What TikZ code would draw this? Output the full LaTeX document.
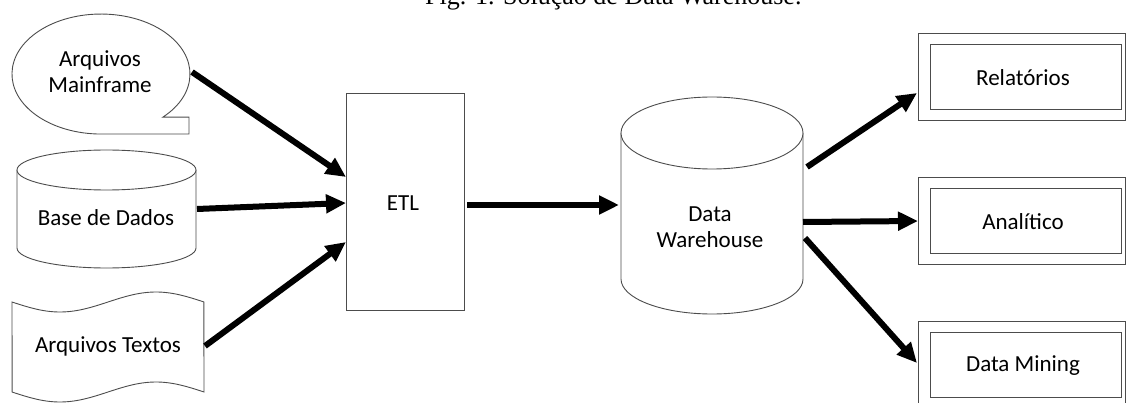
\documentclass[tikz,border=0pt]{standalone}
\usepackage{fontspec}
\setmainfont{Carlito}
\newfontfamily\capfont{Liberation Serif}
\usetikzlibrary{arrows.meta}

\tikzset{
  outline/.style={draw=black!70, line width=0.9pt, fill=white},
  label/.style={font=\fontsize{23}{26}\selectfont, align=center, inner sep=0pt, text=black},
  flow/.style={draw=black, line width=6pt, -{Triangle[length=20pt,width=18pt]}},
}

\begin{document}
\begin{tikzpicture}[x=1pt,y=1pt]
\useasboundingbox (0,0) rectangle (1126,-403);
\clip (0,0) rectangle (1126,-403);

% caption
\node[anchor=base west, inner sep=0pt, font=\capfont\fontsize{26}{30}\selectfont] (cap) at (425,-5) {Fig. 1. Solução de Data Warehouse.};

% mainframe files: oval callout
\draw[outline] (162.8,-117.2) arc[start angle=-46, end angle=270, x radius=89, y radius=60]
  -- (189,-134) -- (189,-117.2) -- cycle;
\node[label] (mf) at (100,-72) {Arquivos\\Mainframe};

% database: cylinder
\draw[outline] (17,-170) -- (17,-248) arc[start angle=180, end angle=360, x radius=89.5, y radius=20] -- (196,-170);
\draw[outline] (106.5,-170) ellipse[x radius=89.5, y radius=20];
\node[label] (bd) at (106,-218) {Base de Dados};

% text files: punched tape
\draw[outline] plot[domain=0:1, samples=60] ({12+192*\x}, {-302-10*sin(360*\x)})
  -- (204,-392)
  -- plot[domain=1:0, samples=60] ({12+192*\x}, {-392-10*sin(360*\x)})
  -- cycle;
\node[label] (at) at (108,-346) {Arquivos Textos};

% ETL
\node[outline, minimum width=118pt, minimum height=217pt, inner sep=0pt] (etlbox) at (405,-201.5) {};
\node[label] (etl) at (403,-203) {ETL};

% data warehouse: cylinder
\draw[outline] (621,-133) -- (621,-279) arc[start angle=180, end angle=360, x radius=91, y radius=35] -- (803,-133);
\draw[outline] (712,-133) ellipse[x radius=91, y radius=36];
\node[label] (dw) at (710,-227) {Data\\Warehouse};

% outputs: double framed boxes
\foreach \n/\t/\txt in {rel/33/Relatórios, ana/177/Analítico, dm/321/Data Mining}{
  \draw[outline] (918,-\t) rectangle (1125.5,-\t-87);
  \draw[outline] (930,-\t-11) rectangle (1121.5,-\t-76);
  \node[label] (\n) at (1023,-\t-44.5) {\txt};
}

% connection points
\coordinate (mf-o) at (192,-72);
\coordinate (bd-o) at (197,-209);
\coordinate (at-o) at (205,-346);
\coordinate (etl-i1) at (346,-177);
\coordinate (etl-i2) at (346,-203);
\coordinate (etl-i3) at (346,-242);
\coordinate (etl-o) at (467,-205);
\coordinate (dw-i) at (619,-205);
\coordinate (dw-o1) at (807,-167);
\coordinate (dw-o2) at (803,-222);
\coordinate (dw-o3) at (805,-238);
\coordinate (rel-i) at (917,-93);
\coordinate (ana-i) at (918,-221);
\coordinate (dm-i) at (917,-363);

% flows
\draw[flow] (mf-o) -- (etl-i1);
\draw[flow] (bd-o) -- (etl-i2);
\draw[flow] (at-o) -- (etl-i3);
\draw[flow] (etl-o) -- (dw-i);
\draw[flow] (dw-o1) -- (rel-i);
\draw[flow] (dw-o2) -- (ana-i);
\draw[flow] (dw-o3) -- (dm-i);
\end{tikzpicture}
\end{document}
